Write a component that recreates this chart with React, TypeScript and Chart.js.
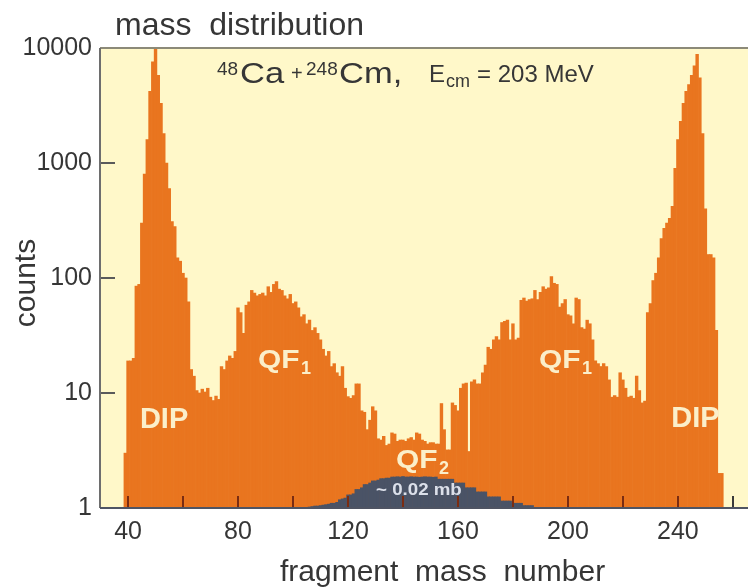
import React, { useEffect, useRef } from 'react';
import { Chart, registerables } from 'chart.js';

Chart.register(...registerables);

// Fragment mass spectrum, 48Ca + 248Cm at Ecm = 203 MeV
const FIRST_MASS = 39;
const counts: number[] = [
  // 39 - 58
  3, 19, 19, 20, 85, 88, 300, 800, 1600, 4200, 7600, 10000, 5800, 3300, 1800, 1000, 600, 310, 280, 150,
  // 59 - 78
  140, 110, 100, 62, 16, 14, 10.5, 10, 10.8, 10.2, 11, 9.2, 8.6, 9.4, 8.8, 17, 16, 19, 21, 20,
  // 79 - 98
  23, 55, 50, 33, 58, 62, 78, 74, 70, 72, 74, 70, 84, 75, 88, 93, 80, 78, 70, 66,
  // 99 - 118
  72, 60, 62, 55, 46, 48, 40, 43, 35, 37, 33, 29, 24, 21, 23, 17, 18, 15, 14, 17,
  // 119 - 138
  11, 9.3, 9, 9.5, 12, 12, 7, 6.8, 4.8, 5.8, 7.6, 7, 4, 3.9, 4.2, 3.5, 3.6, 4.5, 4.4, 3.8,
  // 139 - 158
  3.9, 3.9, 3.8, 4, 4.1, 3.9, 4.5, 4.4, 3.9, 3.8, 3.6, 3.7, 3.7, 3.6, 3.6, 8.1, 4.8, 3.2, 3.2, 8.2,
  // 159 - 178
  7.8, 7, 11, 12, 12.2, 3.1, 12.5, 13, 12, 12, 15, 17.5, 25, 24, 29, 31, 29, 41, 42, 43,
  // 179 - 198
  29, 40, 29, 30, 64, 67, 63, 65, 66, 78, 65, 75, 84, 80, 82, 103, 90, 88, 56, 60,
  // 199 - 218
  65, 48, 47, 40, 67, 65, 37, 36, 43, 40, 29, 19, 18, 17, 18, 17, 13, 9.2, 9.5, 9.2,
  // 219 - 238
  15, 13, 11, 9.2, 9.4, 9, 14, 10.5, 8.2, 8.5, 50, 60, 95, 110, 150, 220, 270, 300, 330, 420,
  // 239 - 256
  900, 1600, 2300, 3300, 4200, 4800, 5800, 7000, 8800, 5500, 1800, 400, 160, 160, 150, 35, 2, 2,
];

// QF2 component (~0.02 mb)
const QF2_FIRST_MASS = 106;
const qf2Counts: number[] = [
  // 106 - 125
  1.02, 1.03, 1.04, 1.04, 1.05, 1.06, 1.07, 1.08, 1.1, 1.1, 1.12, 1.18, 1.2, 1.22, 1.3, 1.3, 1.33, 1.45, 1.45, 1.5,
  // 126 - 145
  1.6, 1.6, 1.65, 1.72, 1.72, 1.75, 1.8, 1.8, 1.82, 1.82, 1.86, 1.86, 1.87, 1.86, 1.88, 1.86, 1.86, 1.87, 1.86, 1.86,
  // 146 - 165
  1.85, 1.86, 1.87, 1.86, 1.86, 1.85, 1.86, 1.78, 1.78, 1.78, 1.78, 1.78, 1.78, 1.65, 1.65, 1.65, 1.65, 1.5, 1.5, 1.5,
  // 166 - 187
  1.5, 1.38, 1.38, 1.38, 1.38, 1.25, 1.25, 1.25, 1.25, 1.25, 1.15, 1.15, 1.15, 1.15, 1.1, 1.1, 1.1, 1.1, 1.05, 1.05, 1.05, 1.05,
];

const xTickValues = [40, 60, 80, 100, 120, 140, 160, 180, 200, 220, 240, 260];
const xLabelValues = [40, 80, 120, 160, 200, 240];
const yLabelValues = [1, 10, 100, 1000, 10000];
const yMarkValues = [10, 100, 1000];

const FONT = "'Liberation Sans', Arial, Helvetica, sans-serif";
const TEXT = '#363636';
const ORANGE = '#E9751F';
const SLATE = '#4A5366';
const PLOT_BG = '#FFF8C9';
const CREAM = '#FBEFCA';

type Piece = { t: string; x: number; y: number; size: number; bold?: boolean; sx?: number; color?: string };

function drawPiece(ctx: CanvasRenderingContext2D, p: Piece) {
  ctx.save();
  ctx.translate(p.x, p.y);
  ctx.scale(p.sx ?? 1, 1);
  ctx.font = `${p.bold ? 'bold ' : ''}${p.size}px ${FONT}`;
  ctx.fillStyle = p.color ?? TEXT;
  ctx.textAlign = 'left';
  ctx.textBaseline = 'alphabetic';
  ctx.fillText(p.t, 0, 0);
  ctx.restore();
}

const backdrop = {
  id: 'backdrop',
  beforeDraw(chart: Chart) {
    const { ctx, chartArea: a } = chart;
    ctx.save();
    ctx.fillStyle = '#FFFFFF';
    ctx.fillRect(0, 0, chart.width, chart.height);
    ctx.fillStyle = PLOT_BG;
    ctx.fillRect(a.left, a.top, a.right - a.left, a.bottom - a.top);
    ctx.restore();
  },
};

const frameAndMarks = {
  id: 'frameAndMarks',
  afterDatasetsDraw(chart: Chart) {
    const { ctx, chartArea: a } = chart;
    const xs = chart.scales.x;
    const ys = chart.scales.y;
    ctx.save();
    ctx.lineWidth = 2;
    for (const v of xTickValues) {
      const px = Math.round(xs.getPixelForValue(v));
      ctx.strokeStyle = v > 256 ? '#3a3a3a' : '#7a2c12';
      ctx.beginPath();
      ctx.moveTo(px, a.bottom);
      ctx.lineTo(px, a.bottom - 12);
      ctx.stroke();
    }
    ctx.strokeStyle = '#5a5a5a';
    for (const v of yMarkValues) {
      const py = Math.round(ys.getPixelForValue(v));
      ctx.beginPath();
      ctx.moveTo(a.left, py);
      ctx.lineTo(a.left + 15, py);
      ctx.stroke();
    }
    // frame
    ctx.strokeStyle = '#8c8a78';
    ctx.beginPath();
    ctx.moveTo(a.left, a.top);
    ctx.lineTo(a.right, a.top);
    ctx.stroke();
    ctx.strokeStyle = '#6e6e6e';
    ctx.beginPath();
    ctx.moveTo(a.left, a.top);
    ctx.lineTo(a.left, a.bottom);
    ctx.stroke();
    ctx.strokeStyle = '#4f5463';
    ctx.beginPath();
    ctx.moveTo(a.left, a.bottom);
    ctx.lineTo(a.right, a.bottom);
    ctx.stroke();
    ctx.restore();
  },
};

const annotations = {
  id: 'annotations',
  afterDraw(chart: Chart) {
    const { ctx, chartArea: a } = chart;
    const xs = chart.scales.x;
    const ys = chart.scales.y;
    const at = (m: number, c: number) => ({ x: xs.getPixelForValue(m), y: ys.getPixelForValue(c) });

    // titles
    drawPiece(ctx, { t: 'mass  distribution', x: a.left + 15, y: a.top - 13, size: 32 });
    drawPiece(ctx, { t: 'fragment  mass  number', x: 280, y: 581, size: 30 });
    ctx.save();
    ctx.translate(35, 283);
    ctx.rotate(-Math.PI / 2);
    ctx.font = `30px ${FONT}`;
    ctx.fillStyle = TEXT;
    ctx.textAlign = 'center';
    ctx.textBaseline = 'alphabetic';
    ctx.fillText('counts', 0, 0);
    ctx.restore();

    // reaction caption
    const top = a.top;
    const caption: Piece[] = [
      { t: '48', x: 217, y: top + 27, size: 19 },
      { t: 'Ca', x: 240, y: top + 35, size: 30, sx: 1.15 },
      { t: '+', x: 291, y: top + 32, size: 20 },
      { t: '248', x: 306, y: top + 27, size: 19 },
      { t: 'Cm,', x: 339, y: top + 35, size: 30, sx: 1.15 },
      { t: 'E', x: 429, y: top + 34, size: 24 },
      { t: 'cm', x: 446, y: top + 39, size: 18 },
      { t: '= 203 MeV', x: 477, y: top + 34, size: 24 },
    ];
    caption.forEach((p) => drawPiece(ctx, p));

    // region labels
    const dipL = at(53.1, 4.96);
    ctx.save();
    ctx.font = `bold 29px ${FONT}`;
    ctx.fillStyle = CREAM;
    ctx.textAlign = 'center';
    ctx.fillText('DIP', dipL.x, dipL.y);
    const dipR = at(246.4, 5.06);
    ctx.fillText('DIP', dipR.x, dipR.y);
    ctx.restore();

    const qf = (m: number, c: number, sub: string) => {
      const p = at(m, c);
      drawPiece(ctx, { t: 'QF', x: p.x, y: p.y, size: 26, bold: true, sx: 1.15, color: CREAM });
      drawPiece(ctx, { t: sub, x: p.x + 43, y: p.y + 6, size: 18, bold: true, color: CREAM });
    };
    qf(87.3, 16.5, '1');
    qf(189.5, 16.5, '1');
    qf(137.5, 2.23, '2');

    const mb = at(130.2, 1.3);
    drawPiece(ctx, { t: '~ 0.02 mb', x: mb.x, y: mb.y, size: 17, bold: true, sx: 1.1, color: '#DCE0EA' });
  },
};

export default function App() {
  const ref = useRef<HTMLCanvasElement>(null);

  useEffect(() => {
    document.body.style.margin = '0';
    const canvas = ref.current;
    if (!canvas) return;

    const mainPoints = counts.map((c, i) => ({ x: FIRST_MASS + i, y: c }));
    const qf2Points = qf2Counts.map((c, i) => ({ x: QF2_FIRST_MASS + i, y: c }));

    const chart = new Chart(canvas, {
      type: 'bar',
      data: {
        datasets: [
          {
            label: 'QF2',
            data: qf2Points,
            backgroundColor: SLATE,
            borderWidth: 0,
            grouped: false,
            order: 0,
            barPercentage: 1,
            categoryPercentage: 1,
          },
          {
            label: 'counts',
            data: mainPoints,
            backgroundColor: ORANGE,
            borderWidth: 0,
            grouped: false,
            order: 1,
            barPercentage: 1,
            categoryPercentage: 1,
          },
        ],
      } as any,
      options: {
        responsive: false,
        animation: false,
        devicePixelRatio: 1,
        events: [],
        layout: { padding: { top: 48, right: 0, bottom: 0, left: 0 } },
        plugins: { legend: { display: false }, tooltip: { enabled: false }, title: { display: false } },
        scales: {
          x: {
            type: 'linear',
            offset: false,
            min: 29.8,
            max: 265.5,
            grid: { display: false, drawTicks: false, offset: false },
            border: { display: false },
            ticks: {
              stepSize: 20,
              includeBounds: false,
              autoSkip: false,
              maxRotation: 0,
              padding: 9,
              color: TEXT,
              font: { family: FONT, size: 25 },
              callback: (v: any) => (xLabelValues.includes(Number(v)) ? String(v) : ''),
            } as any,
            afterFit: (s: any) => {
              s.height = 80;
            },
          },
          y: {
            type: 'logarithmic',
            min: 1,
            max: 10000,
            grid: { display: false, drawTicks: false },
            border: { display: false },
            ticks: {
              autoSkip: false,
              padding: 8,
              color: TEXT,
              font: { family: FONT, size: 25 },
              callback: (v: any) => {
                const n = Number(v);
                return yLabelValues.some((t) => Math.abs(t - n) < 1e-6 * t) ? String(Math.round(n)) : '';
              },
            },
            afterFit: (s: any) => {
              s.width = 100;
            },
          },
        },
      },
      plugins: [backdrop, frameAndMarks, annotations],
    });

    return () => chart.destroy();
  }, []);

  return (
    <div style={{ width: 748, height: 588, background: '#FFFFFF' }}>
      <canvas ref={ref} width={748} height={588} style={{ display: 'block', width: 748, height: 588 }} />
    </div>
  );
}
